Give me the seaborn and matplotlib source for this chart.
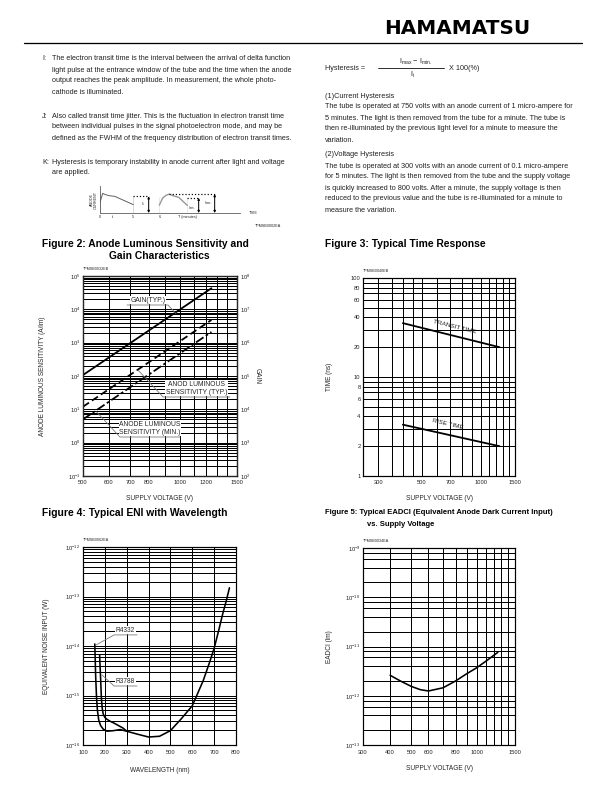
import matplotlib
matplotlib.use('Agg')
import matplotlib.pyplot as plt
from matplotlib import font_manager
from matplotlib.lines import Line2D
from matplotlib.ticker import NullLocator, NullFormatter
import numpy as np
import seaborn as sns

# ---- values ----
# Figure 2: anode luminous sensitivity / gain vs supply voltage
fig2_voltage = [500, 1250]
fig2_gain_typ = [1.07e5, 4.3e7]
fig2_sens_typ = [12, 4.8e3]
fig2_sens_min = [5.0, 2.1e3]

# Figure 3: typical time response
fig3_voltage = [400, 1250]
fig3_transit = [35, 20]
fig3_rise = [3.3, 2.0]

# Figure 4: ENI vs wavelength
r4332_wl = [154, 156, 158, 162, 166, 172, 180, 192, 210, 240, 270, 300, 350, 400,
            450, 500, 550, 600, 650, 680, 700, 720, 740, 755, 770]
r4332_eni = [1.1e-14, 5e-15, 2.4e-15, 9e-16, 5e-16, 3.2e-16, 2.5e-16, 2.1e-16, 1.9e-16,
             1.95e-16, 2.05e-16, 1.9e-16, 1.65e-16, 1.45e-16, 1.5e-16, 1.95e-16, 3.4e-16,
             6.2e-16, 2.0e-15, 4.8e-15, 9e-15, 2e-14, 4.6e-14, 8e-14, 1.5e-13]
r3788_wl = [176, 178, 181, 184, 188, 192, 200, 210, 225, 240, 260, 283, 300]
r3788_eni = [6.6e-15, 4e-15, 2e-15, 9e-16, 5.5e-16, 4.3e-16, 3.6e-16, 3.3e-16, 3.0e-16,
             2.8e-16, 2.5e-16, 2.2e-16, 1.9e-16]

# Figure 5: EADCI vs supply voltage
fig5_voltage = [400, 450, 500, 550, 600, 700, 800, 900, 1000, 1100, 1250]
fig5_eadci = [2.6e-12, 1.95e-12, 1.55e-12, 1.33e-12, 1.25e-12, 1.45e-12, 2.0e-12,
              2.8e-12, 3.7e-12, 5.0e-12, 7.6e-12]

# hysteresis sketch (schematic units)
hyst_p1_t = [0, 0, 0.4, 0.9, 1.5, 2.2, 5.0, 5.0]
hyst_p1_i = [0, 4.3, 4.0, 3.7, 3.5, 3.4, 3.4, 0]
hyst_p2_t = [8.9, 8.9, 9.4, 9.9, 10.4, 11.0, 11.8, 13.1, 13.1]
hyst_p2_i = [0, 3.2, 3.05, 3.6, 3.85, 3.5, 3.2, 3.1, 0]
hyst_ticks = [0, 2, 5, 8.9, 13.1]
hyst_tick_labels = ['0', 'ti', '5', '6', 'T (minutes)']

# ---- fonts ----
sns.set_style('white')
available = {f.name for f in font_manager.fontManager.ttflist}
body_font = 'Liberation Sans' if 'Liberation Sans' in available else 'DejaVu Sans'
narrow_font = next((f for f in ['Liberation Sans Narrow', 'DejaVu Sans Condensed']
                    if f in available), None)
plt.rcParams['font.family'] = [body_font, 'DejaVu Sans']
plt.rcParams['mathtext.default'] = 'regular'

W, H = 612, 792
fig = plt.figure(figsize=(W / 72, H / 72), dpi=72)
fig.patch.set_facecolor('white')

BODY = 7.2
TICK = 5.8
ALAB = 6.5
NOTE = 6.8
CODE = 3.8


def box(x0, y0, x1, y1):
    return fig.add_axes([x0 / W, 1 - y1 / H, (x1 - x0) / W, (y1 - y0) / H])


def ftext(x, y, s, **kw):
    kw.setdefault('fontsize', BODY)
    kw.setdefault('va', 'center')
    kw.setdefault('color', '#222222')
    fig.text(x / W, 1 - y / H, s, **kw)


def label_for(v, ticks, texts):
    for t, s in zip(ticks, texts):
        if np.isclose(v, t, rtol=1e-6, atol=0):
            return s
    return ''


def set_axis(axis, lines, ticks, texts):
    axis.set_ticks(lines)
    axis.set_ticklabels([label_for(v, ticks, texts) for v in lines])
    axis.set_minor_locator(NullLocator())
    axis.set_minor_formatter(NullFormatter())


def log_lines(e0, e1, mults):
    return [m * 10.0 ** e for e in range(e0, e1) for m in mults] + [10.0 ** e1]


def style(ax):
    ax.grid(which='both', color='black', lw=1.0)
    ax.tick_params(which='both', length=0, labelsize=TICK, colors='#222222')
    ax.tick_params(axis='x', pad=4.5)
    ax.tick_params(axis='y', pad=2.5)
    for s in ax.spines.values():
        s.set_linewidth(1.2)
        s.set_color('black')


def sup(e):
    return '10$^{%d}$' % e


# ---- header ----
ftext(530, 29, 'HAMAMATSU', ha='right', fontsize=20, fontweight='heavy',
      family='DejaVu Sans', color='black')
fig.add_artist(Line2D([24 / W, 582 / W], [1 - 43 / H] * 2, color='black', lw=1.3))

left_par = [
    (58, 'I:', 'The electron transit time is the interval between the arrival of delta function'),
    (70, '', 'light pulse at the entrance window of the tube and the time when the anode'),
    (81, '', 'output reaches the peak amplitude. In measurement, the whole photo-'),
    (92, '', 'cathode is illuminated.'),
    (116, 'J:', 'Also called transit time jitter. This is the fluctuation in electron transit time'),
    (127, '', 'between individual pulses in the signal photoelectron mode, and may be'),
    (139, '', 'defined as the FWHM of the frequency distribution of electron transit times.'),
    (162, 'K:', 'Hysteresis is temporary instability in anode current after light and voltage'),
    (173, '', 'are applied.'),
]
for y, tag, s in left_par:
    if tag:
        ftext(42, y, tag)
    ftext(52, y, s)

right_par = [
    (96, '(1)Current Hysteresis'),
    (107, 'The tube is operated at 750 volts with an anode current of 1 micro-ampere for'),
    (118, '5 minutes. The light is then removed from the tube for a minute. The tube is'),
    (129, 'then re-illuminated by the previous light level for a minute to measure the'),
    (140, 'variation.'),
    (155, '(2)Voltage Hysteresis'),
    (166, 'The tube is operated at 300 volts with an anode current of 0.1 micro-ampere'),
    (177, 'for 5 minutes. The light is then removed from the tube and the supply voltage'),
    (188, 'is quickly increased to 800 volts. After a minute, the supply voltage is then'),
    (199, 'reduced to the previous value and the tube is re-illuminated for a minute to'),
    (210, 'measure the variation.'),
]
for y, s in right_par:
    ftext(325, y, s)

ftext(325, 68, 'Hysteresis =')
ftext(416, 62, 'I$_{max}$ \u2212 I$_{min.}$', ha='center')
fig.add_artist(Line2D([378 / W, 444 / W], [1 - 68 / H] * 2, color='black', lw=0.8))
ftext(412, 75, 'I$_{i}$', ha='center')
ftext(449, 68, 'X 100(%)')

# ---- hysteresis sketch ----
hx = box(100, 186, 240, 213)
sns.lineplot(x=hyst_p1_t, y=hyst_p1_i, ax=hx, color='#555555', lw=0.9, sort=False)
sns.lineplot(x=hyst_p2_t, y=hyst_p2_i, ax=hx, color='#999999', lw=1.4, sort=False)
hx.plot([5.0, 7.3], [3.4, 3.4], color='black', ls=':', lw=1.2)
hx.plot([10.4, 17.2], [3.85, 3.85], color='black', ls=':', lw=1.2)
hx.plot([13.1, 14.8], [3.1, 3.1], color='black', ls=':', lw=1.2)
for t, top in [(7.3, 3.4), (14.8, 3.1), (17.2, 3.85)]:
    hx.annotate('', xy=(t, top), xytext=(t, 0),
                arrowprops=dict(arrowstyle='<|-|>', color='black', lw=1.0,
                                mutation_scale=4, shrinkA=0, shrinkB=0))
hx.text(6.6, 1.7, 'I$_{i}$', fontsize=CODE, ha='right', va='center')
hx.text(14.4, 1.0, 'I$_{min.}$', fontsize=CODE, ha='right', va='center')
hx.text(16.9, 2.0, 'I$_{max.}$', fontsize=CODE, ha='right', va='center')
hx.annotate('', xy=(22.0, 0), xytext=(20.5, 0),
            arrowprops=dict(arrowstyle='-|>', color='#555555', lw=0.8, mutation_scale=4))
hx.text(22.3, 0.1, 'TIME', fontsize=CODE, va='center', clip_on=False)
hx.set_xlim(0, 21)
hx.set_ylim(0, 5.5)
hx.set_xticks(hyst_ticks)
hx.set_xticklabels(hyst_tick_labels)
hx.set_yticks([])
hx.tick_params(axis='x', length=0, labelsize=CODE, pad=2)
hx.spines['top'].set_visible(False)
hx.spines['right'].set_visible(False)
for s in ['left', 'bottom']:
    hx.spines[s].set_color('#555555')
    hx.spines[s].set_linewidth(0.8)
hx.patch.set_alpha(0)
hx.set_ylabel('ANODE\nCURRENT', fontsize=CODE, linespacing=1.0, labelpad=2)
ftext(268, 226, 'TPMSB0002EA', fontsize=CODE, ha='center')

# ---- Figure titles ----
tfont = dict(fontsize=10.2, fontweight='bold', color='black')
ftext(42, 244, 'Figure 2: Anode Luminous Sensitivity and', **tfont)
ftext(109, 256, 'Gain Characteristics', **tfont)
ftext(325, 244, 'Figure 3: Typical Time Response', **tfont)
ftext(42, 513, 'Figure 4: Typical ENI with Wavelength', **tfont)
if narrow_font:
    f5 = dict(fontsize=9.6, fontweight='bold', color='black', family=narrow_font)
else:
    f5 = dict(fontsize=7.6, fontweight='bold', color='black')
ftext(325, 513, 'Figure 5: Typical EADCI (Equivalent Anode Dark Current Input)', **f5)
ftext(367, 525, 'vs. Supply Voltage', **f5)

# ---- Figure 2 ----
ax = box(83, 276, 237, 476)
ax2 = ax.twinx()
ax.set_xscale('log')
ax.set_yscale('log')
ax2.set_yscale('log')
sns.lineplot(x=fig2_voltage, y=fig2_sens_typ, ax=ax, color='black', lw=1.8, linestyle=(0, (4, 2)))
sns.lineplot(x=fig2_voltage, y=fig2_sens_min, ax=ax, color='black', lw=1.8,
             linestyle=(0, (5, 1.5, 1.5, 1.5)))
sns.lineplot(x=fig2_voltage, y=fig2_gain_typ, ax=ax2, color='black', lw=1.8)
ax.set_xlim(500, 1500)
ax.set_ylim(1e-1, 1e5)
ax2.set_ylim(1e2, 1e8)
set_axis(ax.xaxis, list(range(500, 1501, 100)), [500, 600, 700, 800, 1000, 1200, 1500],
         ['500', '600', '700', '800', '1000', '1200', '1500'])
set_axis(ax.yaxis, log_lines(-1, 5, range(1, 10)), [10.0 ** e for e in range(-1, 6)],
         [sup(e) for e in range(-1, 6)])
set_axis(ax2.yaxis, [10.0 ** e for e in range(2, 9)], [10.0 ** e for e in range(2, 9)],
         [sup(e) for e in range(2, 9)])
style(ax)
ax2.grid(False)
ax2.tick_params(length=0, labelsize=TICK, pad=3, colors='#222222')
for s in ax2.spines.values():
    s.set_linewidth(1.2)
ax.set_xlabel('SUPPLY VOLTAGE (V)', fontsize=ALAB)
ax.xaxis.set_label_coords(0.5, -0.095)
ax.set_ylabel('ANODE LUMINOUS SENSITIVITY (A/lm)', fontsize=ALAB)
ax.yaxis.set_label_coords(-0.24, 0.5)
ax2.set_ylabel('GAIN', fontsize=ALAB, rotation=270, va='center')
ax2.yaxis.set_label_coords(1.13, 0.5)
lead = dict(transform=ax2.transAxes, color='#777777', lw=0.8)
ax2.plot([0.286, 0.552, 0.604], [0.855, 0.855, 0.812], **lead)
ax2.plot([0.357, 0.52, 0.955], [0.53, 0.395, 0.395], **lead)
ax2.plot([0.089, 0.24, 0.63], [0.32, 0.195, 0.195], **lead)
abox = dict(fc='white', ec='none', pad=0.6)
ax2.text(0.42, 0.862, 'GAIN(TYP.)', transform=ax2.transAxes, fontsize=NOTE, ha='center',
         va='bottom', bbox=abox)
ax2.text(0.737, 0.402, 'ANOD LUMINOUS\nSENSITIVITY (TYP.)', transform=ax2.transAxes,
         fontsize=NOTE, ha='center', va='bottom', linespacing=1.1, bbox=abox)
ax2.text(0.435, 0.202, 'ANODE LUMINOUS\nSENSITIVITY (MIN.)', transform=ax2.transAxes,
         fontsize=NOTE, ha='center', va='bottom', linespacing=1.1, bbox=abox)
ax.text(0.0, 1.025, 'TPMSB0032EB', transform=ax.transAxes, fontsize=CODE, va='bottom')

# ---- Figure 3 ----
ax = box(363, 278, 515, 476)
ax.set_xscale('log')
ax.set_yscale('log')
sns.lineplot(x=fig3_voltage, y=fig3_transit, ax=ax, color='black', lw=1.8)
sns.lineplot(x=fig3_voltage, y=fig3_rise, ax=ax, color='black', lw=1.8)
ax.set_xlim(250, 1500)
ax.set_ylim(1, 100)
set_axis(ax.xaxis, [250, 300, 350, 400, 450] + list(range(500, 1501, 100)),
         [300, 500, 700, 1000, 1500], ['300', '500', '700', '1000', '1500'])
set_axis(ax.yaxis, log_lines(0, 2, range(1, 10)), [1, 2, 4, 6, 8, 10, 20, 40, 60, 80, 100],
         ['1', '2', '4', '6', '8', '10', '20', '40', '60', '80', '100'])
style(ax)
ax.set_xlabel('SUPPLY VOLTAGE (V)', fontsize=ALAB)
ax.xaxis.set_label_coords(0.5, -0.096)
ax.set_ylabel('TIME (ns)', fontsize=ALAB)
ax.yaxis.set_label_coords(-0.197, 0.5)
ax.text(0.605, 0.755, 'TRANSIT TIME', transform=ax.transAxes, fontsize=6.4, ha='center',
        va='center', rotation=-14)
ax.text(0.56, 0.26, 'RISE TIME', transform=ax.transAxes, fontsize=6.4, ha='center',
        va='center', rotation=-13)
ax.text(0.0, 1.025, 'TPMSB0040EB', transform=ax.transAxes, fontsize=CODE, va='bottom')

# ---- Figure 4 ----
ax = box(83, 547, 236, 745)
ax.set_yscale('log')
sns.lineplot(x=r4332_wl, y=r4332_eni, ax=ax, color='black', lw=1.6)
sns.lineplot(x=r3788_wl, y=r3788_eni, ax=ax, color='black', lw=1.6)
ax.set_xlim(100, 800)
ax.set_ylim(1e-16, 1e-12)
set_axis(ax.xaxis, list(range(100, 801, 100)), list(range(100, 801, 100)),
         [str(v) for v in range(100, 801, 100)])
set_axis(ax.yaxis, log_lines(-16, -12, range(1, 10)), [10.0 ** e for e in range(-16, -11)],
         [sup(e) for e in range(-16, -11)])
style(ax)
ax.set_xlabel('WAVELENGTH (nm)', fontsize=ALAB)
ax.xaxis.set_label_coords(0.5, -0.111)
ax.set_ylabel('EQUIVALENT NOISE INPUT (W)', fontsize=ALAB)
ax.yaxis.set_label_coords(-0.216, 0.5)
lead = dict(transform=ax.transAxes, color='#777777', lw=0.8)
ax.plot([0.085, 0.203, 0.353], [0.505, 0.556, 0.556], **lead)
ax.plot([0.124, 0.203, 0.353], [0.354, 0.298, 0.298], **lead)
ax.text(0.278, 0.563, 'R4332', transform=ax.transAxes, fontsize=6.5, ha='center',
        va='bottom', bbox=abox)
ax.text(0.278, 0.305, 'R3788', transform=ax.transAxes, fontsize=6.5, ha='center',
        va='bottom', bbox=abox)
ax.text(0.0, 1.025, 'TPMSB0062EA', transform=ax.transAxes, fontsize=CODE, va='bottom')

# ---- Figure 5 ----
ax = box(363, 548, 515, 745)
ax.set_xscale('log')
ax.set_yscale('log')
sns.lineplot(x=fig5_voltage, y=fig5_eadci, ax=ax, color='black', lw=1.6)
ax.set_xlim(300, 1500)
ax.set_ylim(1e-13, 1e-9)
set_axis(ax.xaxis, list(range(300, 1501, 100)), [300, 400, 500, 600, 800, 1000, 1500],
         ['300', '400', '500', '600', '800', '1000', '1500'])
set_axis(ax.yaxis, log_lines(-13, -9, [1, 2, 4, 6, 8]), [10.0 ** e for e in range(-13, -8)],
         [sup(e) for e in range(-13, -8)])
style(ax)
ax.set_xlabel('SUPPLY VOLTAGE (V)', fontsize=ALAB)
ax.xaxis.set_label_coords(0.5, -0.10)
ax.set_ylabel('EADCI (lm)', fontsize=ALAB)
ax.yaxis.set_label_coords(-0.197, 0.5)
ax.text(0.0, 1.025, 'TPMSB0034EA', transform=ax.transAxes, fontsize=CODE, va='bottom')

fig.savefig('out.png', dpi=72, facecolor='white')
